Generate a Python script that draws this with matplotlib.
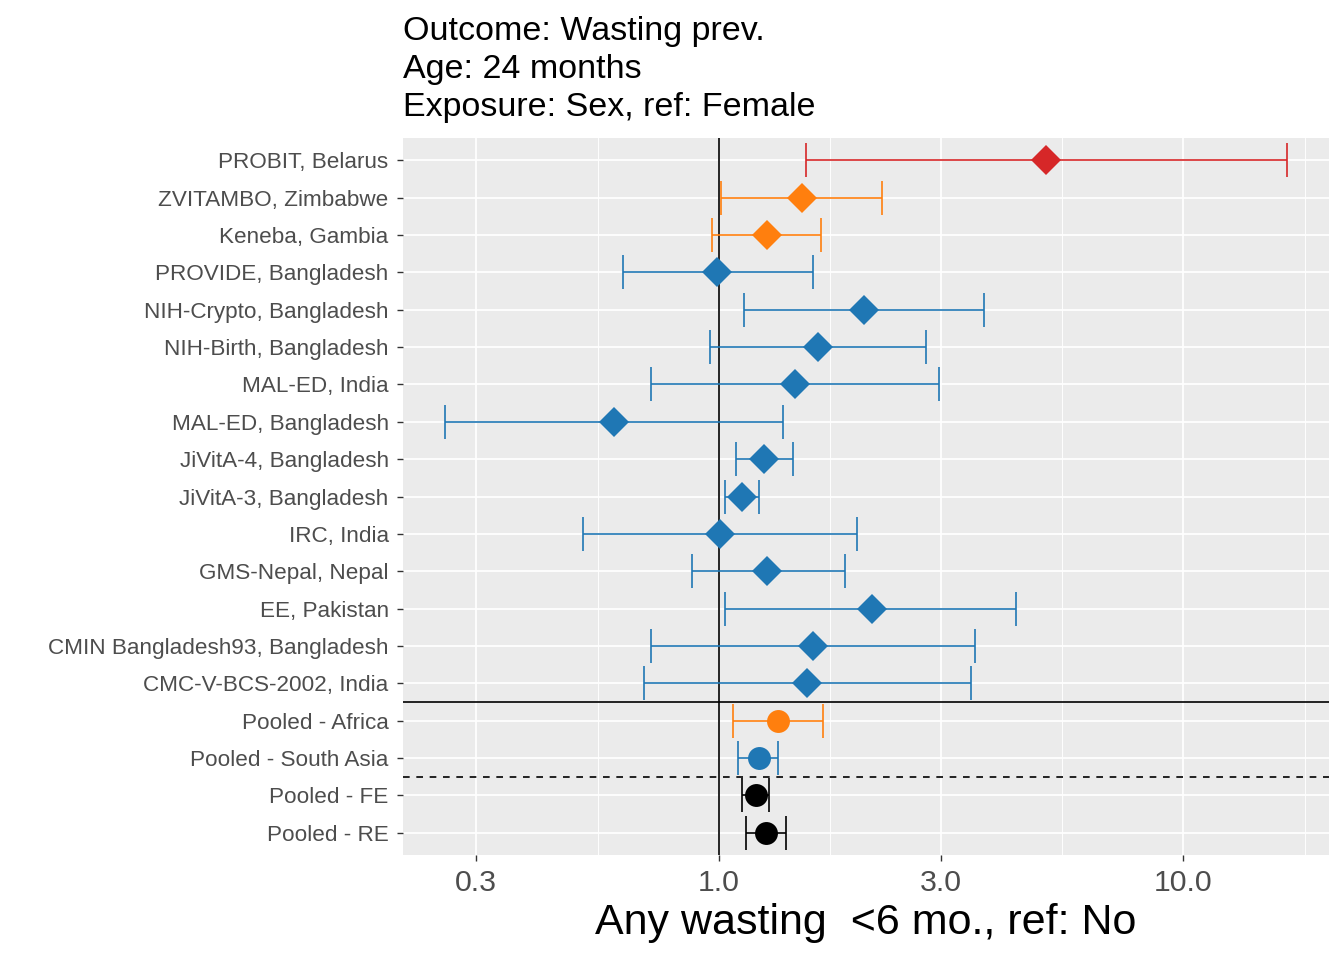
import numpy as np
import matplotlib
matplotlib.use("Agg")
import matplotlib.pyplot as plt
from matplotlib.ticker import FixedLocator, NullFormatter

plt.rcParams['font.family'] = ['Liberation Sans', 'DejaVu Sans']

# estimates (top row first)
studies = ["PROBIT, Belarus", "ZVITAMBO, Zimbabwe", "Keneba, Gambia",
           "PROVIDE, Bangladesh", "NIH-Crypto, Bangladesh", "NIH-Birth, Bangladesh",
           "MAL-ED, India", "MAL-ED, Bangladesh", "JiVitA-4, Bangladesh",
           "JiVitA-3, Bangladesh", "IRC, India", "GMS-Nepal, Nepal",
           "EE, Pakistan", "CMIN Bangladesh93, Bangladesh", "CMC-V-BCS-2002, India",
           "Pooled - Africa", "Pooled - South Asia", "Pooled - FE", "Pooled - RE"]
est = [5.07, 1.51, 1.27, 0.99, 2.05, 1.63, 1.46, 0.594, 1.25, 1.12, 1.005, 1.27,
       2.13, 1.59, 1.55, 1.34, 1.22, 1.20, 1.26]
lower = [1.54, 1.01, 0.966, 0.622, 1.13, 0.956, 0.714, 0.257, 1.088, 1.03, 0.51, 0.875,
         1.03, 0.714, 0.69, 1.07, 1.10, 1.12, 1.14]
upper = [16.7, 2.24, 1.66, 1.59, 3.72, 2.79, 2.97, 1.37, 1.44, 1.22, 1.98, 1.87,
         4.35, 3.55, 3.48, 1.67, 1.34, 1.28, 1.39]
region = ["Europe", "Africa", "Africa", "South Asia", "South Asia", "South Asia",
          "South Asia", "South Asia", "South Asia", "South Asia", "South Asia",
          "South Asia", "South Asia", "South Asia", "South Asia",
          "Africa", "South Asia", "Pooled", "Pooled"]
pooled = [False] * 15 + [True] * 4

region_col = {"Europe": "#D62728", "Africa": "#FF7F0E",
              "South Asia": "#1F77B4", "Pooled": "#000000"}

est = np.array(est)
lower = np.array(lower)
upper = np.array(upper)
ypos = np.arange(len(studies))

fig = plt.figure(figsize=(13.44, 9.6), dpi=100)
ax = fig.add_axes([403/1344, 1-855/960, (1329-403)/1344, (855-138)/960])
ax.set_facecolor("#EBEBEB")
for s in ax.spines.values():
    s.set_visible(False)

ax.set_xscale("log")
# ggplot style 5% expansion on log scale
lo_l, hi_l = np.log10(lower.min()), np.log10(upper.max())
pad = 0.05 * (hi_l - lo_l)
ax.set_xlim(10 ** (lo_l - pad), 10 ** (hi_l + pad))
ax.set_ylim(len(studies) - 0.4, -0.6)

major = [0.3, 1.0, 3.0, 10.0]
lm = np.log10(major)
step = lm[1] - lm[0]
minor = 10 ** np.concatenate([(lm[:-1] + lm[1:]) / 2, [lm[-1] + step / 2]])
ax.xaxis.set_major_locator(FixedLocator(major))
ax.xaxis.set_minor_locator(FixedLocator(minor))
ax.xaxis.set_minor_formatter(NullFormatter())
ax.set_xticklabels(["0.3", "1.0", "3.0", "10.0"])
ax.set_yticks(ypos)
ax.set_yticklabels(studies)

for xv in major:
    ax.axvline(xv, color="white", lw=1.25, zorder=0)
for xv in minor:
    ax.axvline(xv, color="white", lw=0.65, zorder=0)
for yv in ypos:
    ax.axhline(yv, color="white", lw=1.25, zorder=0)

ax.tick_params(axis="both", which="major", length=4.3, width=1.0, color="#333333",
               labelcolor="#4D4D4D", pad=6)
ax.tick_params(axis="x", which="major", labelsize=21.8)
ax.tick_params(axis="y", which="major", labelsize=16.2)
ax.tick_params(axis="x", which="minor", length=0)

ax.axvline(1.0, color="black", lw=1.2, zorder=1)
ax.axhline(14.5, color="black", lw=1.2, zorder=1)
ax.axhline(16.5, color="black", lw=1.2, ls=(0, (4, 4)), zorder=1)

for i in ypos:
    c = region_col[region[i]]
    ax.errorbar(est[i], i, xerr=[[est[i] - lower[i]], [upper[i] - est[i]]],
                fmt="none", ecolor=c, elinewidth=1.2, capsize=11.9, capthick=1.2,
                zorder=2)
    if pooled[i]:
        ax.plot(est[i], i, "o", color=c, ms=16.5, mew=0, zorder=3)
    else:
        ax.plot(est[i], i, "D", color=c, ms=15.2, mew=0, zorder=3)

ax.set_xlabel("Any wasting  <6 mo., ref: No", fontsize=31, color="black", labelpad=4)

fig.text(403/1344, 1 - 16/960,
         "Outcome: Wasting prev.\nAge: 24 months\nExposure: Sex, ref: Female",
         fontsize=24.5, ha="left", va="top", linespacing=1.3, color="black")

fig.savefig("out.png", dpi=100)
